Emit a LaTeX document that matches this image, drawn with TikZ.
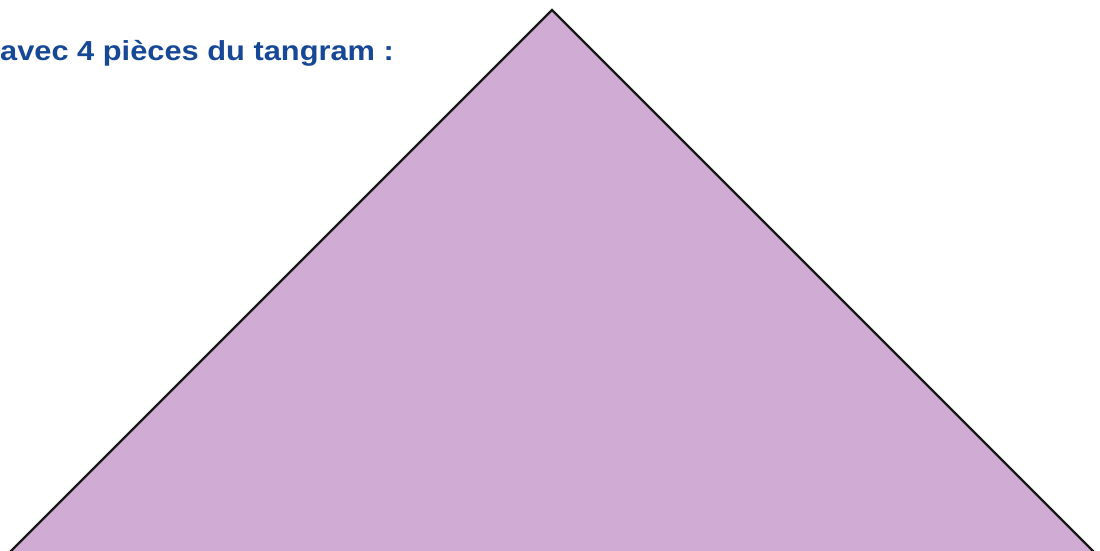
\documentclass[tikz,border=0pt]{standalone}
\usepackage{fontspec}
\setmainfont{Liberation Sans}
\definecolor{titleblue}{RGB}{22,72,150}
\definecolor{piecefill}{RGB}{208,172,212}
\tikzset{
  piece/.style={fill=piecefill, draw=black!90, line width=2.4pt, line join=miter},
  titletext/.style={inner sep=0pt, anchor=base west, text=titleblue, font=\fontsize{27.5}{32}\selectfont\bfseries}
}
\begin{document}
\begin{tikzpicture}[x=1pt,y=-1pt]
\useasboundingbox (0,0) rectangle (1100,551);
\begin{scope}
\clip (0,0) rectangle (1100,551);
\fill[white] (0,0) rectangle (1100,551);
\draw[piece] (552,10) -- (1192,650) -- (-88,650) -- cycle;
\end{scope}
\node[titletext] (title) at (0,60.5) {\scalebox{1.12}[1]{avec 4 pièces du tangram :}};
\end{tikzpicture}
\end{document}
